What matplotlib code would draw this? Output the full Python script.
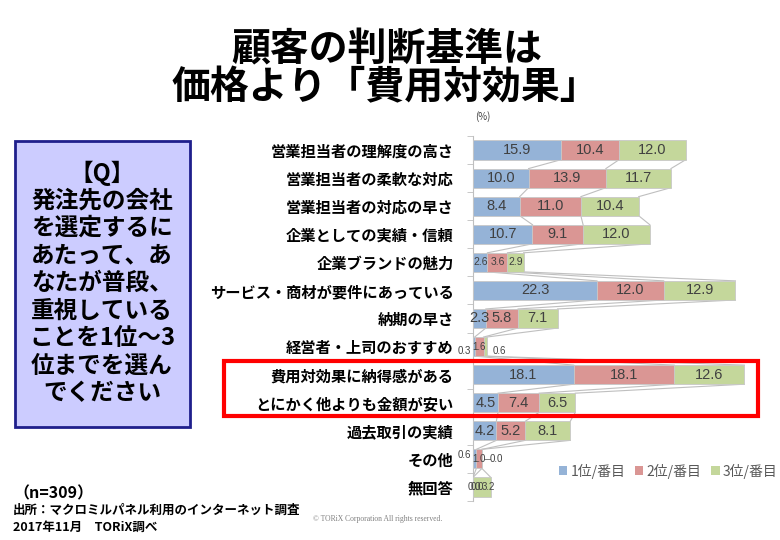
import numpy as np
import matplotlib
matplotlib.use('Agg')
import matplotlib.pyplot as plt
from matplotlib.patches import Rectangle, Patch

plt.rcParams['font.family'] = ['Noto Sans CJK JP', 'DejaVu Sans']

# データ
categories = ['営業担当者の理解度の高さ', '営業担当者の柔軟な対応', '営業担当者の対応の早さ',
              '企業としての実績・信頼', '企業ブランドの魅力', 'サービス・商材が要件にあっている',
              '納期の早さ', '経営者・上司のおすすめ', '費用対効果に納得感がある',
              'とにかく他よりも金額が安い', '過去取引の実績', 'その他', '無回答']
rank1 = [15.9, 10.0, 8.4, 10.7, 2.6, 22.3, 2.3, 0.3, 18.1, 4.5, 4.2, 0.6, 0.0]
rank2 = [10.4, 13.9, 11.0, 9.1, 3.6, 12.0, 5.8, 1.6, 18.1, 7.4, 5.2, 1.0, 0.0]
rank3 = [12.0, 11.7, 10.4, 12.0, 2.9, 12.9, 7.1, 0.6, 12.6, 6.5, 8.1, 0.0, 3.2]
series_names = ['1位/番目', '2位/番目', '3位/番目']
colors = ['#95B3D7', '#DA9694', '#C4D79B']

title_lines = ['顧客の判断基準は', '価格より「費用対効果」']
question = ['【Q】', '発注先の会社', 'を選定するに', 'あたって、あ', 'なたが普段、',
            '重視している', 'ことを1位～3', '位までを選ん', 'でください']

W, H = 780, 540
fig = plt.figure(figsize=(7.8, 5.4), dpi=100)

def fx(px):
    return px / W

def fy(py):
    return 1 - py / H

# タイトル
fig.text(fx(387), fy(50), title_lines[0], ha='center', va='center', fontsize=28, fontweight='bold')
fig.text(fx(385), fy(88), title_lines[1], ha='center', va='center', fontsize=28, fontweight='bold')

# 質問ボックス
fig.patches.append(Rectangle((fx(15), fy(427)), fx(190) - fx(15), fy(141) - fy(427),
                             transform=fig.transFigure, facecolor='#CCCCFF',
                             edgecolor='#1F1F8C', linewidth=2))
for i, line in enumerate(question):
    fig.text(fx(102), fy(173 + i * 27.5), line, ha='center', va='center',
             fontsize=17, fontweight='bold')

# グラフ
ax = fig.add_axes([fx(473), fy(501), fx(751) - fx(473), fy(136) - fy(501)])
y = np.arange(len(categories))
h = 0.68
data = np.array([rank1, rank2, rank3])
left = np.zeros(len(categories))
cums = []
for k in range(3):
    ax.barh(y, data[k], height=h, left=left, color=colors[k], edgecolor='#C8C8C8',
            linewidth=0.6, zorder=3)
    left = left + data[k]
    cums.append(left.copy())

# 区分線
for k in range(3):
    for i in range(len(categories) - 1):
        ax.plot([cums[k][i], cums[k][i + 1]], [i + h / 2, i + 1 - h / 2],
                color='#BFBFBF', lw=0.8, zorder=2)

# データラベル
lab_font = ['Liberation Sans', 'DejaVu Sans']
totals = data.sum(axis=0)
for i in range(len(categories)):
    starts = [0, data[0][i], data[0][i] + data[1][i]]
    small = totals[i] < 10
    for k in range(3):
        v = data[k][i]
        xc = starts[k] + v / 2
        yc = i
        ha = 'center'
        fs = 7.5 if small else 10.5
        if i == 7:
            fs = 7
            if k == 0:
                xc, ha, yc = -0.4, 'right', i + 0.15
            elif k == 2:
                xc, yc = totals[i] + 2.2, i + 0.15
        if i == 11:
            fs = 7
            if k == 0:
                xc, ha, yc = -0.4, 'right', i - 0.15
            elif k == 2:
                xc = 4.2
                ax.plot([1.9, 3.1], [i, i], color='#808080', lw=0.7, zorder=4)
        if i == 12:
            fs = 7
            if k == 0:
                xc = 0.2
            elif k == 1:
                xc = 0.8
            else:
                xc = 2.8
        ax.text(xc, yc, f'{v:.1f}', ha=ha, va='center', fontsize=fs, color='#404040',
                family=lab_font, zorder=5)

ax.set_xlim(0, 50)
ax.set_ylim(len(categories) - 0.5, -0.5)
ax.set_yticks(y)
ax.set_yticklabels(categories, fontsize=11, fontweight='bold')
ax.tick_params(axis='y', which='major', length=0, pad=14)
ax.set_yticks(np.arange(-0.5, len(categories)), minor=True)
ax.tick_params(axis='y', which='minor', length=4, color='#BFBFBF', direction='out')
ax.set_xticks([])
for s in ['top', 'right', 'bottom']:
    ax.spines[s].set_visible(False)
ax.spines['left'].set_color('#BFBFBF')
ax.patch.set_alpha(0)

fig.text(fx(475), fy(117), '(%)', ha='left', va='center', fontsize=7, color='#404040')

# 凡例
handles = [Patch(facecolor=c, edgecolor='none') for c in colors]
fig.legend(handles, series_names, loc='center left', bbox_to_anchor=(fx(546), fy(471)),
           ncol=3, frameon=False, fontsize=10, handlelength=0.6, handleheight=0.6,
           handletextpad=0.25, columnspacing=0.7, labelcolor='#595959')

# 強調枠
fig.patches.append(Rectangle((fx(224), fy(416)), fx(758) - fx(224), fy(361) - fy(416),
                             transform=fig.transFigure, fill=False,
                             edgecolor='#FF0000', linewidth=3, zorder=10))

# 注記
fig.text(fx(13), fy(493), '（n=309）', ha='left', va='center', fontsize=11.5, fontweight='bold')
fig.text(fx(13), fy(510), '出所：マクロミルパネル利用のインターネット調査', ha='left', va='center',
         fontsize=9, fontweight='bold')
fig.text(fx(13), fy(527), '2017年11月　TORiX調べ', ha='left', va='center',
         fontsize=9, fontweight='bold')
fig.text(fx(313), fy(519), '© TORiX Corporation All rights reserved.', ha='left', va='center',
         fontsize=5.5, color='#808080', family=['Liberation Serif', 'DejaVu Serif'])

fig.savefig('out.png', dpi=100)
